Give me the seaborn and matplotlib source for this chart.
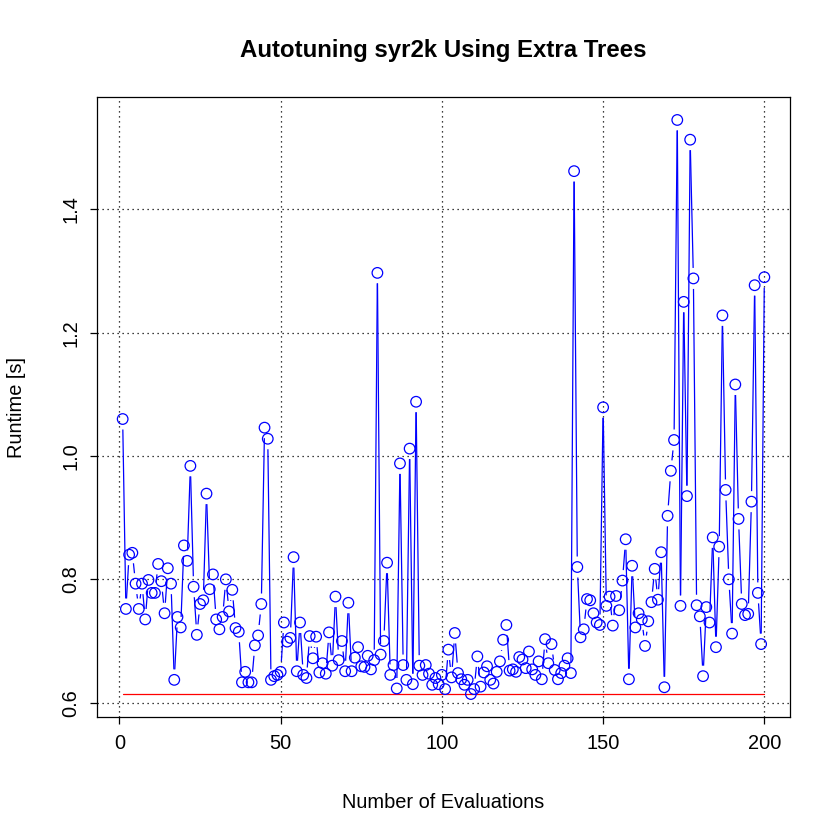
import numpy as np
import pandas as pd
import matplotlib
matplotlib.use("Agg")
import matplotlib.pyplot as plt
import seaborn as sns
from matplotlib.collections import LineCollection

# ---------------- data ----------------
evaluations = list(range(1, 201))
runtime = [
    1.060, 0.752, 0.840, 0.843, 0.793, 0.752, 0.793, 0.735, 0.799, 0.778,
    0.778, 0.825, 0.797, 0.745, 0.818, 0.793, 0.637, 0.739, 0.722, 0.855,
    0.830, 0.984, 0.788, 0.710, 0.760, 0.766, 0.939, 0.784, 0.808, 0.735,
    0.719, 0.739, 0.800, 0.748, 0.783, 0.721, 0.715, 0.633, 0.650, 0.633,
    0.633, 0.693, 0.709, 0.760, 1.046, 1.028, 0.637, 0.643, 0.645, 0.650,
    0.730, 0.699, 0.705, 0.836, 0.651, 0.730, 0.645, 0.640, 0.708, 0.672,
    0.707, 0.649, 0.664, 0.647, 0.714, 0.660, 0.772, 0.669, 0.700, 0.651,
    0.762, 0.651, 0.673, 0.690, 0.659, 0.658, 0.676, 0.654, 0.669, 1.297,
    0.678, 0.700, 0.827, 0.645, 0.661, 0.623, 0.988, 0.661, 0.637, 1.012,
    0.630, 1.088, 0.660, 0.645, 0.661, 0.647, 0.629, 0.640, 0.630, 0.645,
    0.622, 0.686, 0.641, 0.713, 0.648, 0.638, 0.629, 0.637, 0.614, 0.622,
    0.675, 0.626, 0.649, 0.659, 0.637, 0.631, 0.650, 0.667, 0.702, 0.726,
    0.652, 0.654, 0.650, 0.674, 0.670, 0.656, 0.683, 0.654, 0.645, 0.667,
    0.638, 0.703, 0.664, 0.695, 0.653, 0.638, 0.648, 0.660, 0.672, 0.648,
    1.462, 0.820, 0.706, 0.719, 0.768, 0.766, 0.745, 0.730, 0.726, 1.079,
    0.757, 0.772, 0.725, 0.773, 0.750, 0.798, 0.865, 0.638, 0.822, 0.722,
    0.745, 0.735, 0.692, 0.732, 0.763, 0.817, 0.767, 0.844, 0.625, 0.903,
    0.976, 1.026, 1.545, 0.757, 1.250, 0.935, 1.513, 1.288, 0.758, 0.740,
    0.643, 0.755, 0.730, 0.868, 0.690, 0.853, 1.228, 0.945, 0.800, 0.712,
    1.116, 0.898, 0.760, 0.742, 0.744, 0.926, 1.277, 0.778, 0.695, 1.290,
]
x_ticks = [0, 50, 100, 150, 200]
y_ticks = [0.6, 0.8, 1.0, 1.2, 1.4]
title = "Autotuning syr2k Using Extra Trees"
xlabel = "Number of Evaluations"
ylabel = "Runtime [s]"

# ---------------- style ----------------
sns.set_theme(style="white")
plt.rcParams['font.family'] = ['Liberation Sans', 'DejaVu Sans']
plt.rcParams['text.color'] = 'black'
plt.rcParams['axes.labelcolor'] = 'black'
plt.rcParams['xtick.color'] = 'black'
plt.rcParams['ytick.color'] = 'black'

df = pd.DataFrame({"evals": evaluations, "runtime": runtime})

W = 840
fig = plt.figure(figsize=(8.4, 8.4), dpi=100)
ax = fig.add_axes([97 / W, 1 - 717 / W, (790 - 97) / W, (717 - 97) / W])

# R-like axis ranges (4% extension)
xr = (min(evaluations), max(evaluations))
yr = (min(runtime), max(runtime))
dx = 0.04 * (xr[1] - xr[0])
dy = 0.04 * (yr[1] - yr[0])
ax.set_xlim(xr[0] - dx, xr[1] + dx)
ax.set_ylim(yr[0] - dy, yr[1] + dy)

# grid (black dotted)
for xt in x_ticks:
    ax.axvline(xt, color="black", lw=0.9, ls=(0, (1, 3)), zorder=1)
for yt in y_ticks:
    ax.axhline(yt, color="black", lw=0.9, ls=(0, (1, 3)), zorder=1)

# red line at best runtime
best = min(runtime)
sns.lineplot(x=[xr[0], xr[1]], y=[best, best], color="red", lw=0.9, ax=ax, zorder=2)

# points (open circles)
sns.scatterplot(data=df, x="evals", y="runtime", ax=ax, marker="o", s=58,
                facecolor="none", edgecolor="blue", linewidth=0.9, zorder=4)

# type="b" lines: segments with gaps around points
fig.canvas.draw()
pts = ax.transData.transform(np.column_stack([df["evals"], df["runtime"]]))
gap = 10.5
segs = []
inv = ax.transData.inverted()
for p0, p1 in zip(pts[:-1], pts[1:]):
    d = np.hypot(*(p1 - p0))
    if d > 2 * gap:
        f = gap / d
        a = p0 + f * (p1 - p0)
        b = p1 - f * (p1 - p0)
        segs.append(inv.transform(np.array([a, b])))
ax.add_collection(LineCollection(segs, colors="blue", linewidths=0.9, zorder=3))

# axes styling
ax.set_xticks(x_ticks)
ax.set_yticks(y_ticks)
ax.set_xticklabels([str(t) for t in x_ticks])
ax.set_yticklabels([f"{t:.1f}" for t in y_ticks])
ax.tick_params(axis="both", direction="out", length=5.2, width=0.9,
               color="black", labelsize=14.4, labelcolor="black", pad=7,
               bottom=True, left=True)
ax.tick_params(axis="y", labelrotation=90)
for lab in ax.get_yticklabels():
    lab.set_va("center")
for sp in ax.spines.values():
    sp.set_color("black")
    sp.set_linewidth(0.9)
ax.set_xlabel("")
ax.set_ylabel("")
ax.grid(False)

fig.text(0.5 * (97 + 790) / W, 1 - 50 / W, title, ha="center", va="center",
         fontsize=17.3, fontweight="bold", color="black")
fig.text(0.5 * (97 + 790) / W, 1 - 802 / W, xlabel, ha="center", va="center",
         fontsize=14.4, color="black")
fig.text(17 / W, 1 - 0.5 * (97 + 717) / W, ylabel, ha="center", va="center",
         fontsize=14.4, rotation=90, color="black")

fig.savefig("out.png", dpi=100)
